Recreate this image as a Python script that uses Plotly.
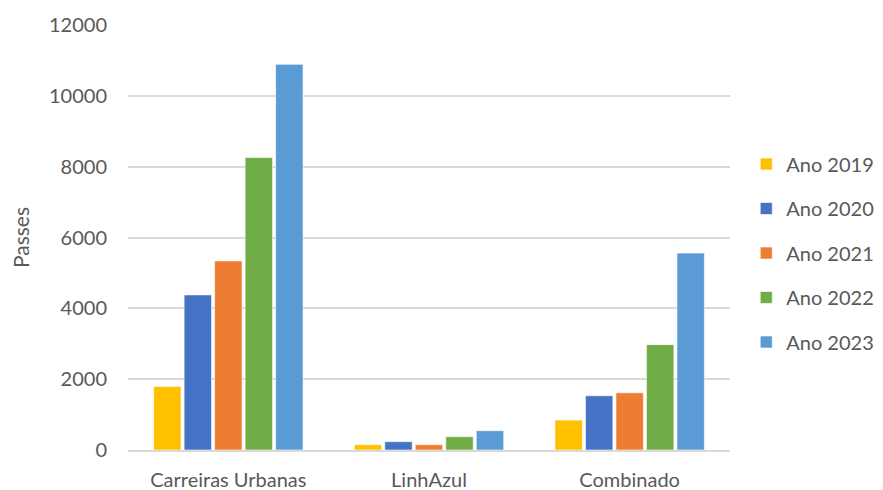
import plotly.graph_objects as go

categories = ["Carreiras Urbanas", "LinhAzul", "Combinado"]
series_names = ["Ano 2019", "Ano 2020", "Ano 2021", "Ano 2022", "Ano 2023"]
ano_2019 = [1790, 150, 845]
ano_2020 = [4380, 235, 1530]
ano_2021 = [5340, 150, 1615]
ano_2022 = [8260, 376, 2975]
ano_2023 = [10890, 545, 5560]
series_values = [ano_2019, ano_2020, ano_2021, ano_2022, ano_2023]
colors = ["#FFC000", "#4472C4", "#ED7D31", "#70AD47", "#5B9BD5"]
y_ticks = [0, 2000, 4000, 6000, 8000, 10000, 12000]

font_family = "Lato, 'Open Sans', sans-serif"
gray = "#595959"

fig = go.Figure()
for name, vals, col in zip(series_names, series_values, colors):
    fig.add_trace(go.Bar(
        x=categories, y=vals, name=name, legendgroup=name,
        marker=dict(color=col, line=dict(color="rgba(255,255,255,0.6)", width=1)),
    ))

fig.update_layout(
    width=883, height=490,
    margin=dict(l=120, r=142, t=17, b=48),
    paper_bgcolor="white", plot_bgcolor="white",
    barmode="group", bargap=0.24, bargroupgap=0.1,
    font=dict(family=font_family, color=gray, size=20),
    legend=dict(
        x=1.027, y=0.4635, xanchor="left", yanchor="middle",
        font=dict(size=20, color=gray), tracegroupgap=15.5,
        itemwidth=30,
    ),
    yaxis=dict(
        automargin=False,
        range=[0, 12000], tickvals=y_ticks, tickformat="d",
        showgrid=True, gridcolor="#D9D9D9", gridwidth=1.5,
        zeroline=False, showline=False,
        ticklabelstandoff=20,
        tickfont=dict(size=20, color=gray),
        title=dict(text="Passes", font=dict(size=21, color=gray), standoff=22),
    ),
    xaxis=dict(
        automargin=False,
        showline=True, linecolor="#D9D9D9", linewidth=1.5,
        tickfont=dict(size=20, color=gray), ticks="",
        ticklabelstandoff=11,
    ),
)

fig.write_html("out.html")
